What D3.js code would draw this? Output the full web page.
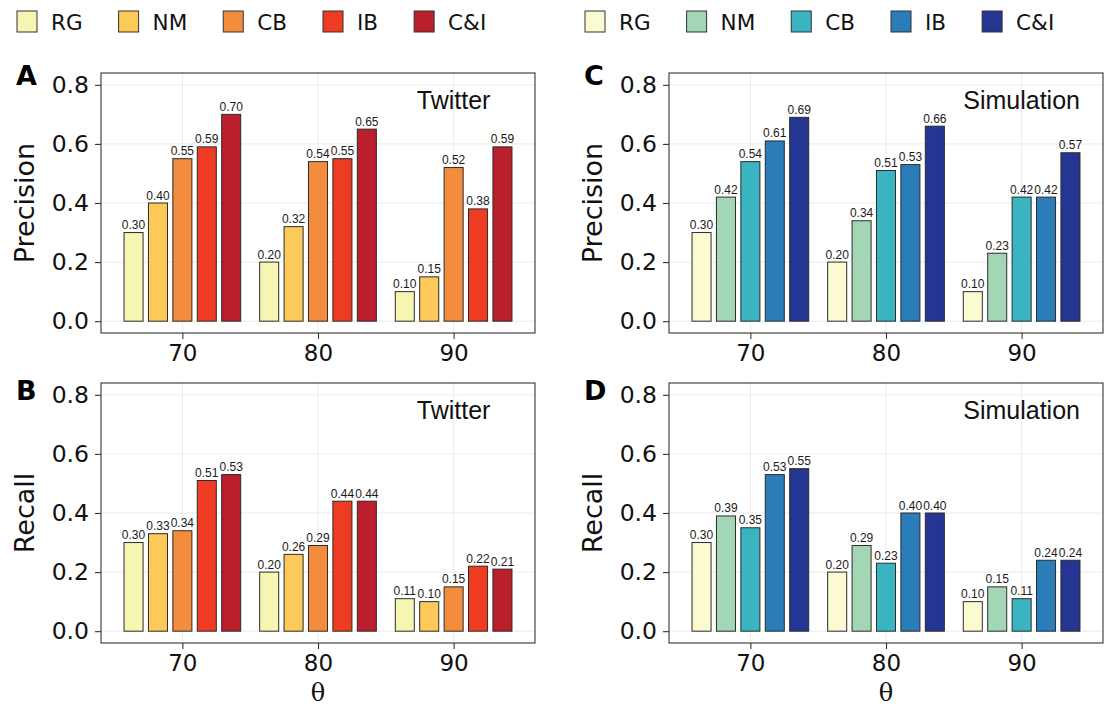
<!DOCTYPE html>
<html>
<head>
<meta charset="utf-8">
<script src="https://cdn.jsdelivr.net/npm/d3@7"></script>
<style>
  body { margin: 0; background: #fff; }
  svg { display: block; }
</style>
</head>
<body>
<svg id="chart" width="1111" height="708"></svg>
<script>
const methods = ["RG", "NM", "CB", "IB", "C&I"];
const thetas = ["70", "80", "90"];

// values per theta (rows) and method (columns)
const twitterPrecision = [[0.30, 0.40, 0.55, 0.59, 0.70], [0.20, 0.32, 0.54, 0.55, 0.65], [0.10, 0.15, 0.52, 0.38, 0.59]];
const twitterRecall    = [[0.30, 0.33, 0.34, 0.51, 0.53], [0.20, 0.26, 0.29, 0.44, 0.44], [0.11, 0.10, 0.15, 0.22, 0.21]];
const simPrecision     = [[0.30, 0.42, 0.54, 0.61, 0.69], [0.20, 0.34, 0.51, 0.53, 0.66], [0.10, 0.23, 0.42, 0.42, 0.57]];
const simRecall        = [[0.30, 0.39, 0.35, 0.53, 0.55], [0.20, 0.29, 0.23, 0.40, 0.40], [0.10, 0.15, 0.11, 0.24, 0.24]];
const yTicks = [0, 0.2, 0.4, 0.6, 0.8];

const warmColors = ["#f6f5b2", "#fdca5a", "#f48c3d", "#ee3c23", "#bc1f2c"];
const coolColors = ["#fbfad0", "#a2d6b4", "#3bb4c2", "#2a7db8", "#253592"];

const svg = d3.select("#chart");
const W = 434, H = 260;

const panels = [
  {letter: "A", x: 101, y: 73, data: twitterPrecision, label: "Precision", title: "Twitter", colors: warmColors, bottom: false},
  {letter: "B", x: 101, y: 383, data: twitterRecall, label: "Recall", title: "Twitter", colors: warmColors, bottom: true},
  {letter: "C", x: 669, y: 73, data: simPrecision, label: "Precision", title: "Simulation", colors: coolColors, bottom: false},
  {letter: "D", x: 669, y: 383, data: simRecall, label: "Recall", title: "Simulation", colors: coolColors, bottom: true}
];

panels.forEach(p => {
  const g = svg.append("g").attr("transform", `translate(${p.x},${p.y})`);

  const x = d3.scalePoint().domain(thetas).range([0, W]).padding(0.6);
  const half = 0.45 * x.step();
  const inner = d3.scaleBand().domain(methods).range([-half, half]).paddingInner(0.22).paddingOuter(0.11);
  const y = d3.scaleLinear().domain([-0.04, 0.84]).range([H, 0]);

  // grid
  g.append("g").selectAll("line.h").data(yTicks).join("line")
    .attr("x1", 0).attr("x2", W)
    .attr("y1", d => y(d)).attr("y2", d => y(d))
    .attr("stroke", "#ebebeb").attr("stroke-width", 1);
  g.append("g").selectAll("line.v").data(thetas).join("line")
    .attr("x1", d => x(d)).attr("x2", d => x(d))
    .attr("y1", 0).attr("y2", H)
    .attr("stroke", "#ebebeb").attr("stroke-width", 1);

  // bars
  const rows = [];
  thetas.forEach((t, i) => methods.forEach((m, j) => rows.push({t, m, j, v: p.data[i][j]})));

  const bars = g.append("g");
  bars.selectAll("rect").data(rows).join("rect")
    .attr("x", d => x(d.t) + inner(d.m))
    .attr("width", inner.bandwidth())
    .attr("y", d => y(d.v))
    .attr("height", d => y(0) - y(d.v))
    .attr("fill", d => p.colors[d.j])
    .attr("stroke", "#2b2b2b")
    .attr("stroke-width", 1);

  bars.selectAll("text").data(rows).join("text")
    .attr("x", d => x(d.t) + inner(d.m) + inner.bandwidth() / 2)
    .attr("y", d => y(d.v) - 3.5)
    .attr("text-anchor", "middle")
    .style("font-family", "'Liberation Sans', Arial, sans-serif")
    .style("font-size", "12px")
    .attr("fill", "#1a1a1a")
    .text(d => d.v.toFixed(2));

  // border
  g.append("rect").attr("width", W).attr("height", H)
    .attr("fill", "none").attr("stroke", "#333").attr("stroke-width", 1.1);

  // axes
  const ya = g.append("g")
    .call(d3.axisLeft(y).tickValues(yTicks).tickFormat(d3.format(".1f")).tickSize(6).tickPadding(6).tickSizeOuter(0));
  ya.select(".domain").remove();
  ya.selectAll(".tick line").attr("stroke", "#333").attr("stroke-width", 1.1);
  ya.selectAll("text").style("font-family", "'DejaVu Sans', sans-serif").style("font-size", "23.5px").attr("fill", "#111");

  const xa = g.append("g").attr("transform", `translate(0,${H})`)
    .call(d3.axisBottom(x).tickSize(6).tickPadding(6).tickSizeOuter(0));
  xa.select(".domain").remove();
  xa.selectAll(".tick line").attr("stroke", "#333").attr("stroke-width", 1.1);
  xa.selectAll("text").style("font-family", "'DejaVu Sans', sans-serif").style("font-size", "23px").attr("fill", "#111");

  // y label
  g.append("text")
    .attr("transform", `translate(-77,${H / 2}) rotate(-90)`)
    .attr("text-anchor", "middle")
    .attr("dominant-baseline", "central")
    .style("font-family", "'DejaVu Sans', sans-serif")
    .style("font-size", "27px")
    .attr("fill", "#111")
    .text(p.label);

  // dataset title
  g.append("text")
    .attr("x", x("90"))
    .attr("y", y(0.75) + 9)
    .attr("text-anchor", "middle")
    .style("font-family", "'Liberation Sans', Arial, sans-serif")
    .style("font-size", "25px")
    .attr("fill", "#111")
    .text(p.title);

  // panel letter
  svg.append("text")
    .attr("x", p.x - 85)
    .attr("y", p.letter === "A" || p.letter === "C" ? 85 : 400)
    .style("font-family", "'DejaVu Sans', sans-serif")
    .style("font-weight", "bold")
    .style("font-size", "27px")
    .attr("fill", "#000")
    .text(p.letter);

  if (p.bottom) {
    g.append("text")
      .attr("x", W / 2)
      .attr("y", H + 58)
      .attr("text-anchor", "middle")
      .style("font-family", "'DejaVu Serif', 'Liberation Serif', serif")
      .style("font-size", "24px")
      .attr("fill", "#111")
      .text("θ");
  }
});

// legends
function legend(x0, colors) {
  const lg = svg.append("g").attr("transform", `translate(${x0},0)`);
  let cx = 0;
  methods.forEach((m, i) => {
    const item = lg.append("g").attr("transform", `translate(${cx},0)`);
    item.append("rect")
      .attr("x", 0).attr("y", 11).attr("width", 20).attr("height", 21)
      .attr("fill", colors[i]).attr("stroke", "#333").attr("stroke-width", 1);
    const t = item.append("text")
      .attr("x", 34).attr("y", 30)
      .style("font-family", "'DejaVu Sans', sans-serif")
      .style("font-size", "21.5px")
      .attr("fill", "#111")
      .text(m);
    cx += 34 + t.node().getComputedTextLength() + 36;
  });
}
legend(17, warmColors);
legend(585, coolColors);
</script>
</body>
</html>
